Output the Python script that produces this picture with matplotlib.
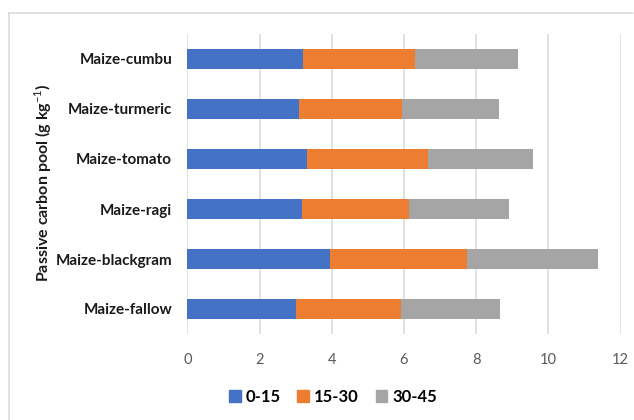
import matplotlib
matplotlib.use("Agg")
import matplotlib.pyplot as plt
import numpy as np
from matplotlib.lines import Line2D

plt.rcParams['font.family'] = ['Lato', 'DejaVu Sans']
plt.rcParams['mathtext.fontset'] = 'custom'
plt.rcParams['mathtext.rm'] = 'Lato'
plt.rcParams['mathtext.bf'] = 'Lato:bold'

# Cropping systems (bottom to top) and passive carbon pool per soil depth (g/kg)
systems = ["Maize-fallow", "Maize-blackgram", "Maize-ragi",
           "Maize-tomato", "Maize-turmeric", "Maize-cumbu"]
depth_labels = ["0-15", "15-30", "30-45"]
depth_0_15 = [3.01, 3.94, 3.18, 3.31, 3.09, 3.20]
depth_15_30 = [2.91, 3.80, 2.96, 3.36, 2.85, 3.10]
depth_30_45 = [2.73, 3.62, 2.78, 2.90, 2.69, 2.87]
x_ticks = [0, 2, 4, 6, 8, 10, 12]

colors = ["#4472C4", "#ED7D31", "#A5A5A5"]

fig = plt.figure(figsize=(6.34, 4.20), dpi=100)
ax = fig.add_axes([187.3 / 634, 1 - 334 / 420, (620.7 - 187.3) / 634, 300 / 420])

y = np.arange(len(systems))
left = np.zeros(len(systems))
for vals, col, lab in zip([depth_0_15, depth_15_30, depth_30_45], colors, depth_labels):
    ax.barh(y, vals, left=left, height=0.4, color=col, label=lab, zorder=3)
    left += np.array(vals)

ax.set_xlim(0, 12)
ax.set_ylim(-0.5, len(systems) - 0.5)
ax.set_xticks(x_ticks)
ax.set_xticklabels([str(t) for t in x_ticks])
ax.set_yticks(y)
ax.set_yticklabels(systems, fontweight='bold', fontsize=11, color='#1a1a1a')
ax.xaxis.grid(True, color='#D9D9D9', linewidth=1.1, zorder=0)
ax.tick_params(axis='x', length=0, pad=14, labelsize=10.5, labelcolor='#595959')
ax.tick_params(axis='y', length=0, pad=11)
for s in ax.spines.values():
    s.set_visible(False)

fig.text(43 / 634, 1 - 183 / 420, r'Passive carbon pool (g kg$^{-1}$)',
         rotation=90, ha='center', va='center', fontsize=11.5, fontweight='bold',
         color='#1a1a1a')

handles = [plt.Rectangle((0, 0), 1, 1, color=c) for c in colors]
fig.legend(handles, depth_labels, loc='center', bbox_to_anchor=(333 / 634, 1 - 397 / 420),
           ncol=3, frameon=False, prop={'weight': 'bold', 'size': 12},
           handlelength=0.7, handleheight=0.7, handletextpad=0.3, columnspacing=1.0)

# Chart-area border (top and left edges)
fig.add_artist(Line2D([9 / 634, 633 / 634], [1 - 13 / 420, 1 - 13 / 420],
                      transform=fig.transFigure, color='#D9D9D9', linewidth=1.1))
fig.add_artist(Line2D([9 / 634, 9 / 634], [1 - 13 / 420, 0],
                      transform=fig.transFigure, color='#D9D9D9', linewidth=1.1))

fig.savefig("out.png", dpi=100, facecolor='white')
